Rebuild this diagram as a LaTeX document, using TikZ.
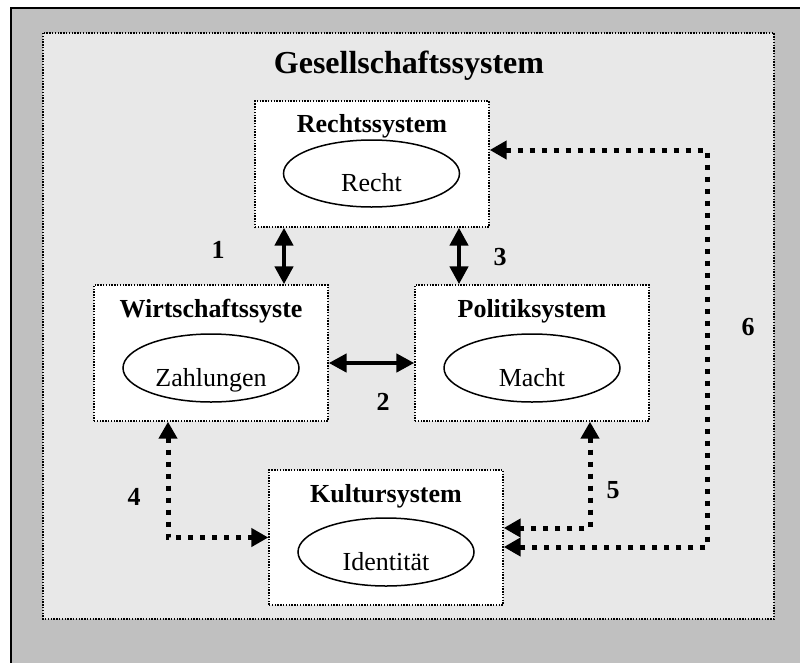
\documentclass[tikz,border=0pt]{standalone}
\usepackage{fontspec}
\setmainfont{Liberation Serif}
\usetikzlibrary{arrows.meta,calc,shapes.geometric}
\definecolor{outergray}{HTML}{C0C0C0}
\definecolor{innergray}{HTML}{E8E8E8}

\begin{document}
\begin{tikzpicture}[x=1pt,y=-1pt,
    sysbox/.style={draw,fill=white,line width=1.4pt,dash pattern=on 1.4pt off 1.4pt,minimum width=234pt},
    systitle/.style={font=\fontsize{26}{30}\selectfont\bfseries},
    medium/.style={draw,ellipse,line width=1.5pt,minimum width=176pt,minimum height=68pt,inner sep=0pt,
      font=\fontsize{26}{30}\selectfont,text height=36pt,text depth=0pt},
    solidarrow/.style={line width=4.5pt,{Triangle[length=18pt,width=18pt]}-{Triangle[length=18pt,width=18pt]}},
    dotarrow/.style={line width=5pt,dash pattern=on 5pt off 7pt,{Triangle[length=17pt,width=18pt]}-{Triangle[length=17pt,width=18pt]}},
    num/.style={font=\fontsize{26}{30}\selectfont\bfseries}]
      \useasboundingbox (0,0) rectangle (800,662);
      \clip (0,0) rectangle (800,662);
      \fill[white] (0,0) rectangle (800,662);
      \draw[line width=2pt,fill=outergray] (11,8) rectangle (830,700);
      \draw[fill=innergray,line width=1.4pt,dash pattern=on 1.4pt off 1.4pt] (43,33) rectangle (774,619);

      \node[font=\fontsize{32}{36}\selectfont\bfseries] (gesT) at (409,66) {Gesellschaftssystem};

      % subsystems
      \node[sysbox,minimum height=126pt] (rechts) at (372,164) {};
      \node[sysbox,minimum height=136pt] (wirt) at (211,353) {};
      \node[sysbox,minimum height=136pt] (polit) at (532,353) {};
      \node[sysbox,minimum height=135pt] (kult) at (386,537.5) {};

      \node[systitle] (rechtsT) at ($(rechts.north)+(0,26)$) {Rechtssystem};
      \node[systitle] (wirtT) at ($(wirt.north)+(0,27)$) {Wirtschaftssyste};
      \node[systitle] (politT) at ($(polit.north)+(0,27)$) {Politiksystem};
      \node[systitle] (kultT) at ($(kult.north)+(0,27)$) {Kultursystem};

      \node[medium,minimum height=67pt] (rechtsM) at (371.5,173.5) {Recht};
      \node[medium] (wirtM) at (211,368) {Zahlungen};
      \node[medium] (politM) at (532,368) {Macht};
      \node[medium] (kultM) at (386,552) {Identität};

      % solid links
      \draw[solidarrow] ($(rechts.south)+(-88,0)$) coordinate (a1) -- (a1 |- wirt.north);
      \draw[solidarrow] ($(rechts.south)+(87,0)$) coordinate (a3) -- (a3 |- polit.north);
      \draw[solidarrow] ($(wirt.east)+(0,10)$) coordinate (a2) -- (a2 -| polit.west);

      % dotted links
      \coordinate (turn6) at (707,150);
      \draw[dotarrow] ($(wirt.south)+(-43,0)$) |- (kult.west);
      \draw[dotarrow] ($(polit.south)+(58,0)$) |- ($(kult.east)+(0,-9.5)$);
      \draw[dotarrow] (rechts.east |- turn6) -- (turn6) |- ($(kult.east)+(0,9.5)$);

      \node[num] (n1) at (218,250) {1};
      \node[num] (n2) at (383,402) {2};
      \node[num] (n3) at (500,257) {3};
      \node[num] (n4) at (134,497) {4};
      \node[num] (n5) at (613,490) {5};
      \node[num] (n6) at (748,327) {6};
\end{tikzpicture}
\end{document}
